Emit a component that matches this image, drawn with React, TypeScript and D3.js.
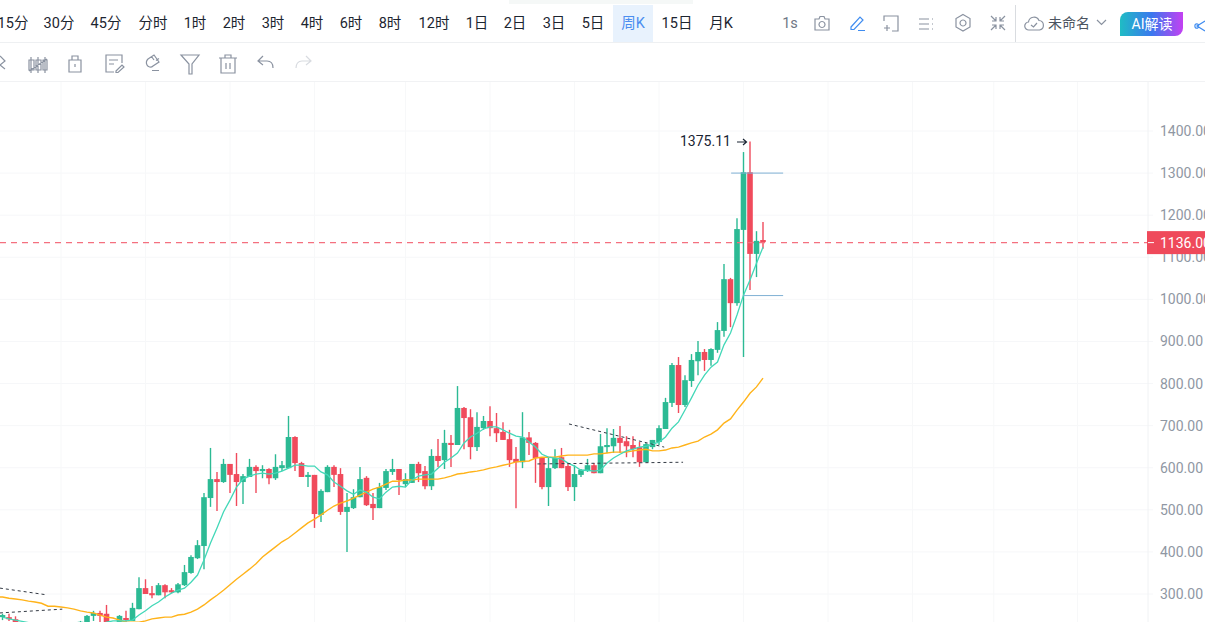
import React, { useEffect, useRef } from 'react';
import * as d3 from 'd3';

// weekly candles, newest first: [open, high, low, close]
const candles: number[][] = [
  [1141, 1184, 1120, 1136], [1108, 1162, 1053, 1139], [1302, 1375, 1022, 1108], [1165, 1350, 863, 1302],
  [991, 1193, 985, 1167], [1048, 1051, 934, 991], [925, 1084, 911, 1048], [880, 946, 873, 927],
  [856, 884, 842, 882], [875, 882, 830, 856], [853, 901, 820, 875], [806, 870, 792, 856],
  [749, 820, 744, 808], [844, 863, 730, 749], [754, 849, 744, 844], [692, 766, 692, 756],
  [661, 701, 654, 694], [649, 666, 644, 666], [613, 659, 613, 656], [649, 661, 602, 613],
  [654, 675, 625, 644], [663, 675, 625, 651], [671, 699, 635, 659], [651, 692, 635, 671],
  [649, 694, 635, 654], [587, 680, 587, 651], [606, 611, 587, 587], [592, 621, 590, 606],
  [583, 597, 578, 595], [554, 606, 521, 585], [604, 611, 545, 554], [625, 647, 599, 599],
  [599, 644, 597, 623], [554, 625, 509, 599], [625, 625, 549, 554], [659, 661, 564, 623],
  [672, 685, 630, 659], [613, 732, 599, 672], [621, 649, 504, 613], [668, 690, 602, 618],
  [685, 708, 666, 666], [694, 730, 661, 682], [711, 746, 675, 694], [694, 723, 690, 711],
  [649, 732, 640, 697], [720, 739, 620, 649], [742, 744, 644, 718], [654, 794, 654, 742],
  [659, 678, 602, 654], [618, 690, 597, 659], [628, 668, 602, 616], [556, 644, 547, 628],
  [592, 604, 549, 556], [609, 614, 566, 587], [564, 609, 564, 609], [561, 587, 554, 573],
  [597, 597, 535, 571], [590, 621, 583, 597], [552, 597, 547, 592], [504, 564, 504, 554],
  [514, 540, 476, 504], [576, 580, 509, 511], [530, 602, 530, 573], [504, 549, 502, 530],
  [495, 540, 400, 507], [585, 599, 488, 495], [602, 606, 554, 583], [542, 606, 542, 602],
  [488, 549, 471, 545], [583, 583, 457, 490], [578, 590, 554, 583], [611, 614, 578, 578],
  [673, 675, 592, 611], [599, 723, 599, 673], [599, 616, 592, 606], [575, 632, 571, 602],
  [597, 599, 561, 575], [592, 606, 575, 597], [602, 606, 540, 592], [578, 621, 578, 602],
  [566, 585, 514, 580], [585, 635, 509, 566], [609, 609, 540, 583], [566, 621, 564, 609],
  [573, 590, 497, 566], [528, 647, 507, 573], [414, 540, 359, 530], [385, 428, 383, 416],
  [350, 392, 348, 388], [321, 369, 319, 352], [304, 326, 302, 323], [309, 314, 302, 304],
  [321, 323, 290, 304], [297, 326, 297, 321], [302, 319, 290, 297], [314, 335, 300, 300],
  [264, 340, 264, 314], [236, 279, 236, 267], [243, 260, 230, 238], [228, 250, 222, 248],
  [220, 230, 212, 228], [253, 274, 220, 225], [255, 260, 233, 248], [248, 260, 236, 255],
  [233, 250, 225, 248], [225, 236, 218, 234], [214, 222, 208, 218], [220, 224, 208, 212],
  [206, 222, 200, 218], [216, 222, 204, 208], [210, 224, 204, 216], [218, 228, 206, 212],
  [204, 226, 200, 218], [228, 233, 205, 212], [222, 228, 214, 226], [240, 247, 226, 230],
  [245, 253, 236, 240], [245, 253, 238, 250],
];

const fastAvg = [
  1124, 1086, 1046, 1010, 963, 920, 892, 851, 839, 820, 796, 766, 737, 709, 694, 673, 661, 656, 651, 649,
  644, 640, 632, 623, 611, 594, 592, 594, 594, 604, 611, 621, 623, 625, 632, 649, 661, 673, 675, 682,
  690, 697, 697, 692, 682, 673, 659, 635, 623, 613, 599, 585, 583, 580, 571, 554, 556, 554, 542, 526,
  530, 542, 547, 537, 545, 556, 566, 583, 590, 604, 604, 606, 606, 599, 592, 587, 585, 587, 585, 580,
  573, 554, 523, 495, 457, 421, 381, 345, 328, 314, 309, 302, 293, 281, 272, 260, 250, 238, 236, 236,
  236, 233, 228, 226, 224, 222, 220, 220, 218, 218, 220, 222, 226, 232, 235, 238, 241, 245,
];

const slowAvg = [
  813, 792, 777, 756, 737, 716, 706, 690, 680, 673, 663, 659, 654, 649, 647, 642, 640, 640, 644, 642,
  640, 637, 637, 637, 635, 633, 633, 630, 630, 630, 630, 628, 625, 625, 625, 623, 616, 615, 614, 609,
  606, 602, 599, 595, 592, 590, 587, 585, 580, 576, 573, 573, 573, 573, 571, 571, 568, 568, 561, 554,
  549, 542, 535, 528, 521, 516, 509, 499, 488, 478, 469, 457, 445, 433, 424, 412, 400, 388, 372, 359,
  347, 335, 322, 309, 297, 286, 274, 264, 257, 252, 250, 245, 245, 243, 241, 236, 233, 233, 233, 238,
  243, 245, 250, 255, 257, 260, 264, 267, 269, 271, 271, 278, 281, 283, 286, 288, 290, 293, 293,
];

const priceTicks = [300, 400, 500, 600, 700, 800, 900, 1000, 1100, 1200, 1300, 1400];
const gridWeeks = [-48.4, -35.5, -23, -10, 3, 16, 29, 42, 55, 69, 82, 95, 108];
const lastPrice = 1136;
const peakPrice = 1375.11;

// drawn trend lines: [[weeksBack, price], [weeksBack, price]]
const dashedLines: number[][][] = [
  [[29.85, 704], [15.2, 649]],
  [[34.7, 609], [12.3, 613]],
  [[117.4, 314], [110.2, 298]],
  [[117.4, 255], [107.8, 264]],
];
const levelLines: number[][][] = [
  [[4.9, 1300], [-3.1, 1300]],
  [[3, 1009], [-3.1, 1009]],
];

const periods = ['15分', '30分', '45分', '分时', '1时', '2时', '3时', '4时', '6时', '8时', '12时', '1日', '2日', '3日', '5日', '周K', '15日', '月K'];
const periodCenters = [13, 59, 106, 153, 195, 234, 273, 312, 351, 390, 434, 477, 515, 554, 593, 633, 677, 721];

const FONT = 'Roboto, "Noto Sans CJK SC", sans-serif';
const GREEN = '#2cba94';
const RED = '#f04b5c';

const Icon: React.FC<{ d: string; x: number; y: number; color?: string }> = ({ d, x, y, color = '#8a92a0' }) => (
  <path d={d} transform={`translate(${x},${y})`} fill="none" stroke={color} strokeWidth={1.2} />
);

const App: React.FC = () => {
  const plotRef = useRef<SVGGElement>(null);

  useEffect(() => {
    if (!plotRef.current) return;
    const g = d3.select(plotRef.current);
    g.selectAll('*').remove();

    const x = d3.scaleLinear().domain([0, 100]).range([763, 113]);
    const y = d3.scaleLinear().domain([300, 1400]).range([594, 131]);

    // grid
    g.append('g').selectAll('line').data(priceTicks).enter().append('line')
      .attr('x1', 0).attr('x2', 1153)
      .attr('y1', d => y(d)).attr('y2', d => y(d))
      .attr('stroke', '#f6f7f9');
    g.append('g').selectAll('line').data(gridWeeks).enter().append('line')
      .attr('x1', d => x(d)).attr('x2', d => x(d))
      .attr('y1', 82).attr('y2', 622)
      .attr('stroke', '#f7f8f9');
    g.append('line').attr('x1', 1148).attr('x2', 1148).attr('y1', 82).attr('y2', 622).attr('stroke', '#f0f2f4');

    // candles
    const bars = g.append('g').selectAll('g').data(candles).enter().append('g')
      .attr('fill', d => (d[3] >= d[0] ? GREEN : RED))
      .attr('stroke', d => (d[3] >= d[0] ? GREEN : RED));
    bars.append('line')
      .attr('x1', (_, i) => x(i)).attr('x2', (_, i) => x(i))
      .attr('y1', d => y(d[1])).attr('y2', d => y(d[2]))
      .attr('stroke-width', 1.4);
    bars.append('rect')
      .attr('x', (_, i) => x(i) - 2.8)
      .attr('width', 5.6)
      .attr('y', d => y(Math.max(d[0], d[3])))
      .attr('height', d => Math.max(1.5, Math.abs(y(d[0]) - y(d[3]))))
      .attr('stroke', 'none');

    // moving averages
    const line = d3.line<number>().x((_, i) => x(i)).y(d => y(d));
    g.append('path').attr('d', line(slowAvg)).attr('fill', 'none').attr('stroke', '#ffb31a').attr('stroke-width', 1.4);
    g.append('path').attr('d', line(fastAvg)).attr('fill', 'none').attr('stroke', '#43d8b8').attr('stroke-width', 1.3);

    // trend and level lines
    const seg = d3.line<number[]>().x(d => x(d[0])).y(d => y(d[1]));
    g.append('g').selectAll('path').data(dashedLines).enter().append('path')
      .attr('d', d => seg(d)).attr('fill', 'none')
      .attr('stroke', '#333a44').attr('stroke-width', 1).attr('stroke-dasharray', '3,3');
    g.append('g').selectAll('path').data(levelLines).enter().append('path')
      .attr('d', d => seg(d)).attr('fill', 'none')
      .attr('stroke', '#7fb0d4').attr('stroke-width', 1);

    // last price line
    g.append('line')
      .attr('x1', 0).attr('x2', 1147)
      .attr('y1', y(lastPrice) + 0.5).attr('y2', y(lastPrice) + 0.5)
      .attr('stroke', '#f4707f').attr('stroke-width', 1.2).attr('stroke-dasharray', '6,5');

    // price axis
    const axis = d3.axisRight(y).tickValues(priceTicks).tickSize(0).tickPadding(0).tickFormat(d3.format('.2f') as any);
    const axisG = g.append('g').attr('transform', 'translate(1160,0)').call(axis);
    axisG.select('.domain').remove();
    axisG.selectAll('text')
      .attr('font-family', FONT).attr('font-size', 14).attr('fill', '#8f97a3');

    // last price tag
    g.append('rect').attr('x', 1147).attr('y', y(lastPrice) - 11).attr('width', 58).attr('height', 23).attr('fill', '#ef4a5b');
    g.append('line')
      .attr('x1', 1148).attr('x2', 1154)
      .attr('y1', y(lastPrice) + 0.5).attr('y2', y(lastPrice) + 0.5)
      .attr('stroke', '#fff');
    g.append('text')
      .attr('x', 1160).attr('y', y(lastPrice) + 5.5)
      .attr('font-family', FONT).attr('font-size', 14).attr('fill', '#fff')
      .text(lastPrice.toFixed(2));

    // peak label
    const peakY = y(peakPrice);
    g.append('text')
      .attr('x', 680).attr('y', peakY + 5)
      .attr('font-family', FONT).attr('font-size', 14).attr('fill', '#1a2433')
      .text(peakPrice.toFixed(2));
    g.append('path')
      .attr('d', `M737,${peakY + 0.5}H746M743,${peakY - 2.5}L746.5,${peakY + 0.5}L743,${peakY + 3.5}`)
      .attr('fill', 'none').attr('stroke', '#1a2433').attr('stroke-width', 1.2);
  }, []);

  return (
    <svg width={1205} height={622} style={{ position: 'absolute', left: 0, top: 0, display: 'block', background: '#fff' }}>
      <defs>
        <linearGradient id="aiBtn" x1="0" x2="1" y1="0" y2="0">
          <stop offset="0" stopColor="#1fbcc4" />
          <stop offset="0.5" stopColor="#3a78ee" />
          <stop offset="1" stopColor="#c440f2" />
        </linearGradient>
      </defs>

      <g ref={plotRef} />

      {/* toolbar chrome */}
      <rect x={509} y={0} width={184} height={4} fill="#f5f8f7" />
      <rect x={613} y={5} width={40} height={37} fill="#e8f2fd" />
      <line x1={0} x2={1205} y1={42.5} y2={42.5} stroke="#eef0f2" />
      <line x1={0} x2={1205} y1={81.5} y2={81.5} stroke="#f1f2f4" />
      <line x1={1015.5} x2={1015.5} y1={5} y2={42} stroke="#d9dce0" />

      {periods.map((p, i) => (
        <text key={p} x={periodCenters[i]} y={28} textAnchor="middle" fontFamily={FONT} fontSize={14.5}
          fill={p === '周K' ? '#4b8ef0' : '#1c2530'}>{p}</text>
      ))}
      <text x={790} y={28} textAnchor="middle" fontFamily={FONT} fontSize={14.5} fill="#6f7785">1s</text>

      <Icon x={814} y={16} d="M1,3H5L6,0.5H10L11,3H15V14H1ZM8,5.5A3,3 0 1 0 8.01,5.5" />
      <Icon x={850} y={15} color="#3f8cf0" d="M1,12L10,2L13,5L4,14.5H1ZM8,15.5H15" />
      <Icon x={884} y={16} d="M0,5V0H14V15H8M0,12H6M3,9V15" />
      <Icon x={919} y={18} d="M0,1H10M0,6H10M0,11H10M13,1H14M13,6H14M13,11H14" />
      <Icon x={955} y={14} d="M8,0.5L15,4.5V13L8,17L1,13V4.5ZM8,6A3,3 0 1 0 8.01,6" />
      <Icon x={991} y={16} d="M0,0L5,5M5,1V5H1M14,0L9,5M9,1V5H13M0,14L5,9M5,13V9H1M14,14L9,9M9,13V9H13" />
      <Icon x={1025} y={16} d="M4,14A4,4 0 0 1 3.5,6A5.5,5.5 0 0 1 14,4.5A4.8,4.8 0 0 1 14.5,14ZM6,9L8.5,11L12,7" />
      <text x={1048} y={28} fontFamily={FONT} fontSize={14} fill="#4c5460">未命名</text>
      <Icon x={1097} y={20} d="M0,0L4.5,4.5L9,0" />
      <path d="M1128,12H1183V28A8,8 0 0 1 1175,36H1120V20A8,8 0 0 1 1128,12Z" fill="url(#aiBtn)" />
      <text x={1152} y={29} textAnchor="middle" fontFamily={FONT} fontSize={14} fill="#fff">AI解读</text>
      <Icon x={1195} y={20} color="#3f8cf0" d="M10,1L2,6L10,11M3.5,6A1.8,1.8 0 1 1 0,6A1.8,1.8 0 1 1 3.5,6" />

      <Icon x={-3} y={55} d="M3,1L8,6L3,10L8,14" />
      <Icon x={27} y={54} d="M4,3V19M2,6H7V16H2ZM11,3V19M9,6H14V16H9ZM18,3V19M16,6H20V16H16ZM2,17L20,5" />
      <Icon x={69} y={55} d="M0,5H12V17H0ZM3,5V1H9V5M6,9V12" />
      <Icon x={105} y={54} d="M17,9V1H1V18H9M4,6H13M4,10H9M11,17L17,11L19,13L13,18.5H11Z" />
      <Icon x={143} y={54} d="M5,5L11,1L16,8L10,12C8,14 5,13 4,11C3,9 3,7 5,5ZM8.5,2.5L11,6M13,6.5L16,4.5M9,16.5H16" />
      <Icon x={181} y={54} d="M0,1H18L11,10V20H8V10Z" />
      <Icon x={219} y={54} d="M0,4H18M6,4V1H12V4M2,4V19H16V4M7,9V15M11,9V15" />
      <Icon x={258} y={56} d="M5,0L0,5L5,9M0,5H9C13,5 15,8 15,12" />
      <Icon x={296} y={56} color="#d8dbe0" d="M10,0L15,5L10,9M15,5H6C2,5 0,8 0,12" />
    </svg>
  );
};

export default App;
